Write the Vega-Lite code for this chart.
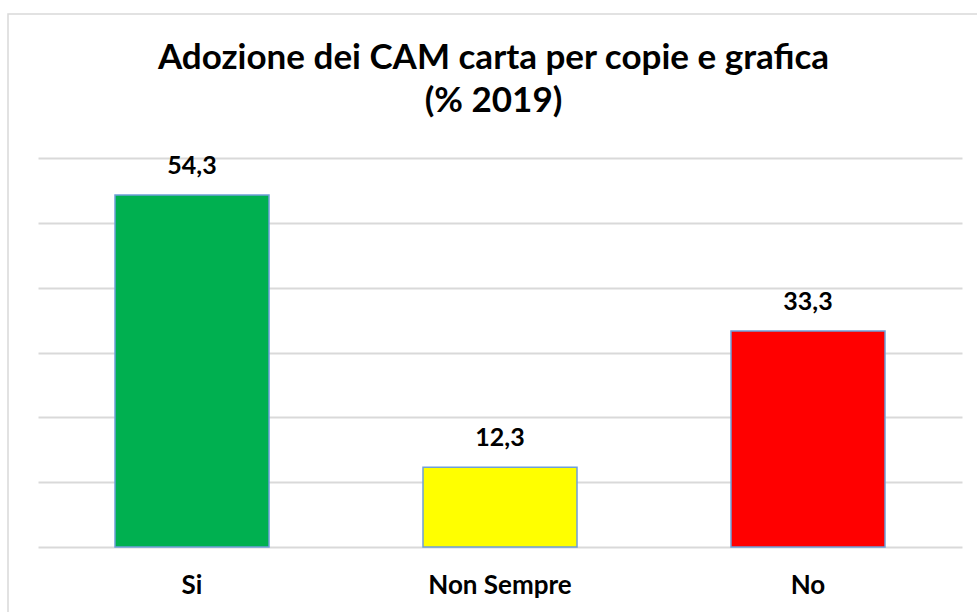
{
  "$schema": "https://vega.github.io/schema/vega-lite/v6.json",
  "autosize": "none",
  "width": 971,
  "height": 600,
  "padding": {"left": 8, "top": 14, "right": -2, "bottom": -2},
  "background": "white",
  "config": {
    "font": "Lato",
    "view": {"stroke": "#d9d9d9", "strokeWidth": 1.5},
    "locale": {"number": {"decimal": ",", "thousands": ".", "grouping": [3], "currency": ["", " €"]}}
  },
  "title": {
    "text": ["Adozione dei CAM carta per copie e grafica", "(% 2019)"],
    "fontSize": 35,
    "fontWeight": "bold",
    "font": "Lato",
    "color": "#000000",
    "anchor": "middle",
    "lineHeight": 43,
    "offset": -105
  },
  "data": {
    "values": [
      {"risposta": "Si", "valore": 54.3},
      {"risposta": "Non Sempre", "valore": 12.3},
      {"risposta": "No", "valore": 33.3}
    ]
  },
  "encoding": {
    "x": {
      "field": "risposta",
      "type": "nominal",
      "sort": null,
      "scale": {"range": [30, 954], "paddingInner": 0.5, "paddingOuter": 0.25},
      "axis": {
        "title": null,
        "domain": false,
        "ticks": false,
        "tickSize": 0,
        "grid": false,
        "labelAngle": 0,
        "labelFont": "Lato",
        "labelFontSize": 26,
        "labelFontWeight": "bold",
        "labelColor": "#000000",
        "labelBaseline": "alphabetic",
        "labelPadding": 46,
        "offset": -67
      }
    },
    "y": {
      "field": "valore",
      "type": "quantitative",
      "scale": {"domain": [0, 60], "range": [533, 144], "nice": false},
      "axis": {
        "title": null,
        "domain": false,
        "ticks": false,
        "labels": false,
        "grid": true,
        "values": [0, 10, 20, 30, 40, 50, 60],
        "gridColor": "#d9d9d9",
        "gridWidth": 2
      }
    }
  },
  "layer": [
    {
      "mark": {"type": "bar", "stroke": "#6f9fd8", "strokeWidth": 1.5},
      "encoding": {
        "color": {
          "field": "risposta",
          "type": "nominal",
          "scale": {"domain": ["Si", "Non Sempre", "No"], "range": ["#00b050", "#ffff00", "#ff0000"]},
          "legend": null
        }
      }
    },
    {
      "mark": {"type": "text", "font": "Lato", "fontSize": 25, "fontWeight": "bold", "color": "#000000", "baseline": "middle", "dy": -29},
      "encoding": {
        "text": {"field": "valore", "type": "quantitative", "format": ".1f"}
      }
    }
  ]
}
